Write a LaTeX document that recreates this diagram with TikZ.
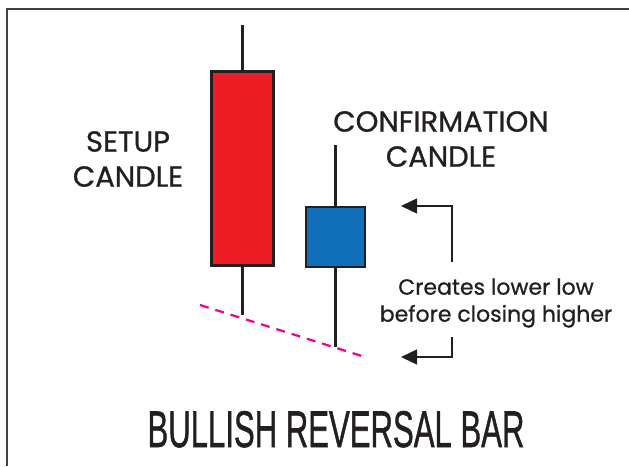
\documentclass[tikz,border=0pt]{standalone}
\usepackage{fontspec}
\setmainfont{Poppins}[FakeBold=0.8]
\newfontfamily\titlefont{Liberation Sans}[FakeBold=1.2]
\usetikzlibrary{arrows.meta, positioning}

\definecolor{candlered}{HTML}{EE1C25}
\definecolor{candleblue}{HTML}{1071BA}
\definecolor{lowpink}{HTML}{EC008C}
\definecolor{inkdark}{HTML}{231F20}

\tikzset{
	candle/.style={draw=inkdark, line width=2.7pt, rectangle, inner sep=0pt},
	wick/.style={draw=inkdark, line width=2.4pt},
	headtext/.style={text=inkdark, align=center, font=\fontsize{29}{35}\selectfont},
	notetext/.style={text=inkdark, align=center, font=\fontsize{22}{27}\selectfont},
	pointer/.style={draw=inkdark, line width=1.3pt, -{Triangle[length=16pt, width=15pt]}}
}

\begin{document}
\begin{tikzpicture}[x=1pt, y=-1pt]
	\useasboundingbox (0,0) rectangle (629,466);

% frame
	\draw[line width=2pt, draw=black!75] (7,466) |- (629,9);

	\coordinate (setuptop) at (242.5,25);
	\coordinate (setuplow) at (242.5,315);
	\coordinate (conftop) at (335.5,145);
	\coordinate (conflow) at (335.5,347);

% wicks
	\draw[wick] (setuptop) -- (setuplow);
	\draw[wick] (conftop) -- (conflow);

% candles
	\node[candle, fill=candlered, minimum width=62pt, minimum height=194pt] (setupbody) at (242.5,168.5) {};
	\node[candle, fill=candleblue, minimum width=59pt, minimum height=60pt] (confbody) at (335.5,237) {};

% lower low
	\coordinate (lowA) at (200,305);
	\coordinate (lowB) at (365,357);
	\draw[lowpink, line width=2.2pt, dash pattern=on 9pt off 7pt] (lowA) -- (lowB);

% labels
	\node[headtext] (setuptxt) at (128,159) {SETUP\\CANDLE};
	\node[headtext] (conftxt) at (441,139) {CONFIRMATION\\CANDLE};
	\node[notetext] (note) at (496,303) {Creates lower low\\before closing higher};

% arrows
	\coordinate (upfrom) at (452,262);
	\coordinate (uptip) at (401,206);
	\coordinate (downfrom) at (452,337);
	\coordinate (downtip) at (401,357);
	\draw[pointer] (upfrom) |- (uptip);
	\draw[pointer] (downfrom) |- (downtip);

% title
	\node[anchor=base, text=inkdark] (title) at (336,447) {\resizebox{377pt}{36pt}{\titlefont BULLISH REVERSAL BAR}};

\end{tikzpicture}
\end{document}
